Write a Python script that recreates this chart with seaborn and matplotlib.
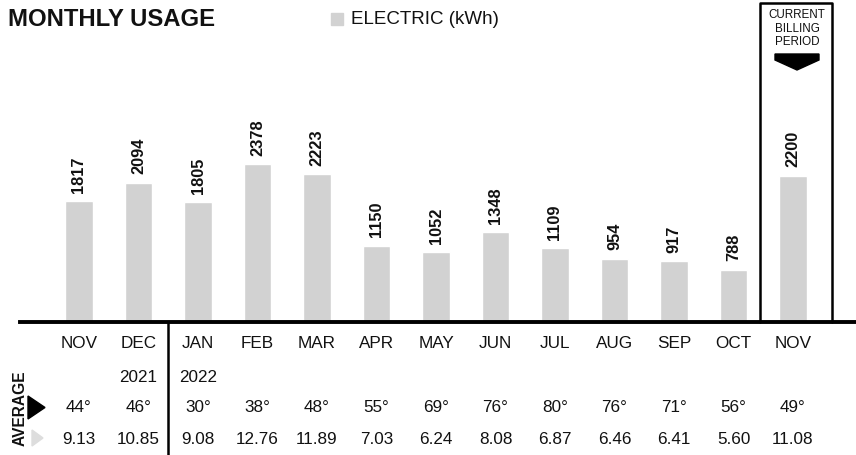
import matplotlib
matplotlib.use("Agg")
import matplotlib.pyplot as plt
import matplotlib.transforms as mtransforms
from matplotlib.patches import Polygon, Rectangle
import seaborn as sns
import pandas as pd

# chart data
periods = ["2021-11", "2021-12", "2022-01", "2022-02", "2022-03", "2022-04", "2022-05",
           "2022-06", "2022-07", "2022-08", "2022-09", "2022-10", "2022-11"]
months = ["NOV", "DEC", "JAN", "FEB", "MAR", "APR", "MAY", "JUN", "JUL", "AUG", "SEP", "OCT", "NOV"]
years = ["", "2021", "2022", "", "", "", "", "", "", "", "", "", ""]
kwh = [1817, 2094, 1805, 2378, 2223, 1150, 1052, 1348, 1109, 954, 917, 788, 2200]
avg_temp = [44, 46, 30, 38, 48, 55, 69, 76, 80, 76, 71, 56, 49]
kwh_per_day = [9.13, 10.85, 9.08, 12.76, 11.89, 7.03, 6.24, 8.08, 6.87, 6.46, 6.41, 5.60, 11.08]

BAR = "#d2d2d2"
INK = "#111111"

sns.set_theme(style="white")
plt.rcParams["font.family"] = ["Liberation Sans", "DejaVu Sans"]

W, H = 856, 455
fig = plt.figure(figsize=(W / 100, H / 100), dpi=100)
fig.patch.set_facecolor("white")

# plot area: from x=20px to right edge, baseline at y=322px
base_px = 322
ax = fig.add_axes([20 / W, (H - base_px) / H, (W - 20) / W, base_px / H])

df = pd.DataFrame({"period": periods, "kwh": kwh})
sns.barplot(data=df, x="period", y="kwh", order=periods, color=BAR,
            width=0.47, saturation=1, ax=ax)

step = 59.5
x0 = 79
ax.set_xlim((20 - x0) / step, (W - x0) / step)
ax.set_ylim(0, base_px / 0.0665)
ax.set_xticks([])
ax.set_yticks([])
ax.set_xlabel("")
ax.set_ylabel("")
for side in ["left", "right", "top"]:
    ax.spines[side].set_visible(False)
ax.spines["bottom"].set_linewidth(2.8)
ax.spines["bottom"].set_color("black")
ax.set_facecolor("none")

# value labels
for i, v in enumerate(kwh):
    ax.annotate(str(v), (i, v), xytext=(0, 6), textcoords="offset points",
                rotation=90, ha="center", va="bottom", fontsize=11.8,
                fontweight="bold", color=INK)

# table below axis: x in data, y in figure pixels from top
tr = mtransforms.blended_transform_factory(ax.transData, fig.transFigure)
def fy(px):
    return 1 - px / H

TS = 12.3
for i in range(len(periods)):
    ax.text(i, fy(344), months[i], transform=tr, ha="center", va="center",
            fontsize=TS, color=INK, clip_on=False)
    if years[i]:
        ax.text(i, fy(377), years[i], transform=tr, ha="center", va="center",
                fontsize=TS, color=INK, clip_on=False)
    ax.text(i, fy(408), f"{avg_temp[i]}°", transform=tr, ha="center", va="center",
            fontsize=TS, color=INK, clip_on=False)
    ax.text(i, fy(439), f"{kwh_per_day[i]:.2f}", transform=tr, ha="center", va="center",
            fontsize=TS, color=INK, clip_on=False)

# year divider between DEC and JAN
ax.plot([1.5, 1.5], [fy(base_px), fy(H)], transform=tr, color="black", lw=1.8, clip_on=False)

# AVERAGE label and row markers
fig.text(20 / W, fy(408), "AVERAGE", rotation=90, ha="center", va="center",
         fontsize=11.2, fontweight="bold", color=INK)
fig.patches.append(Polygon([[28 / W, fy(396)], [28 / W, fy(419)], [45 / W, fy(407.5)]],
                           closed=True, transform=fig.transFigure, color="black"))
fig.patches.append(Polygon([[32 / W, fy(430)], [32 / W, fy(446)], [43 / W, fy(438)]],
                           closed=True, transform=fig.transFigure, color="#dddddd"))

# current billing period box
bl, br = (760 - x0) / step, (832 - x0) / step
bc = (797 - x0) / step
ax.plot([bl, bl, br, br], [fy(base_px), fy(3), fy(3), fy(base_px)], transform=tr,
        color="black", lw=1.8, clip_on=False)
for txt, py in [("CURRENT", 15), ("BILLING", 28.5), ("PERIOD", 42)]:
    ax.text(bc, fy(py), txt, transform=tr, ha="center", va="center",
            fontsize=8.4, color=INK, clip_on=False)
al, ar = (775 - x0) / step, (819 - x0) / step
ax.add_patch(Polygon([[al, fy(54)], [ar, fy(54)], [ar, fy(60)], [bc, fy(70)], [al, fy(60)]],
                     closed=True, transform=tr, color="black", clip_on=False))

# title and legend
fig.text(8 / W, fy(19), "MONTHLY USAGE", ha="left", va="center",
         fontsize=17.2, fontweight="bold", color=INK)
fig.patches.append(Rectangle((331 / W, fy(25)), 12 / W, 12 / H,
                             transform=fig.transFigure, color=BAR))
fig.text(351 / W, fy(19), "ELECTRIC (kWh)", ha="left", va="center",
         fontsize=13.5, color=INK)

fig.savefig("out.png", dpi=100, facecolor="white")
